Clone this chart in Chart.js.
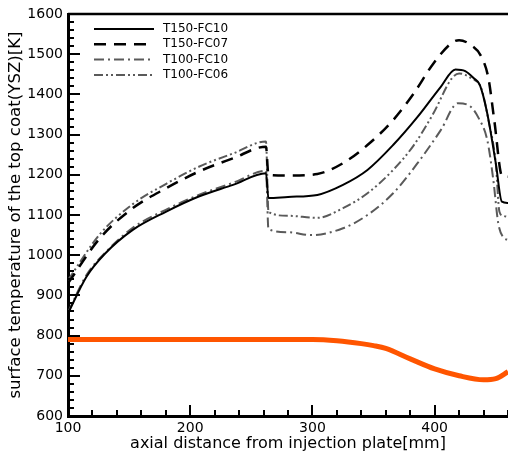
<!DOCTYPE html>
<html>
<head>
<meta charset="utf-8">
<script src="https://cdn.jsdelivr.net/npm/chart.js@4"></script>
<style>
  html, body { margin: 0; padding: 0; background: #fff; }
  #wrap { width: 508px; height: 458px; }
</style>
</head>
<body>
<div id="wrap"><canvas id="chart"></canvas></div>
<script>
// series values (x = axial distance [mm], y = temperature [K])
const labels = ['T150-FC10', 'T150-FC07', 'T100-FC10', 'T100-FC06'];

const fc10T150X = [100, 115, 130, 153, 180, 207, 235, 262, 264, 280, 304, 325, 345, 366, 386, 405, 417, 425, 432, 437, 443, 450, 455, 460];
const fc10T150Y = [855, 946, 1003, 1063, 1108, 1146, 1175, 1204, 1142, 1145, 1150, 1175, 1212, 1274, 1344, 1419, 1462, 1458, 1440, 1423, 1353, 1229, 1133, 1130];

const fc07T150X = [100, 126, 153, 180, 207, 235, 262, 264, 280, 304, 325, 345, 366, 383, 399, 414, 420, 430, 438, 444, 449, 455, 460];
const fc07T150Y = [930, 1042, 1117, 1166, 1208, 1241, 1270, 1200, 1198, 1202, 1229, 1274, 1336, 1403, 1477, 1528, 1535, 1522, 1495, 1440, 1330, 1198, 1195];

const fc10T100X = [100, 115, 131, 153, 180, 207, 235, 262, 264, 280, 299, 325, 345, 366, 386, 405, 419, 430, 436, 443, 448, 452, 456, 460];
const fc10T100Y = [858, 950, 1008, 1068, 1113, 1150, 1180, 1210, 1065, 1057, 1050, 1067, 1100, 1154, 1229, 1311, 1378, 1368, 1341, 1287, 1187, 1080, 1045, 1038];

const fc06T100X = [100, 126, 153, 180, 207, 235, 262, 264, 280, 304, 325, 345, 366, 383, 399, 414, 420, 430, 438, 444, 450, 453, 456, 460];
const fc06T100Y = [938, 1052, 1127, 1177, 1220, 1253, 1283, 1108, 1098, 1093, 1117, 1154, 1212, 1274, 1353, 1440, 1452, 1440, 1416, 1336, 1229, 1108, 1098, 1095];

// orange curve (not in legend)
const bondX = [100, 300, 320, 340, 350, 360, 380, 400, 420, 440, 450, 460];
const bondY = [790, 790, 787, 780, 775, 768, 742, 717, 700, 690, 693, 710];

const xTicks = [100, 200, 300, 400];
const yTicks = [600, 700, 800, 900, 1000, 1100, 1200, 1300, 1400, 1500, 1600];

const FONT = 'DejaVu Sans';

function pts(xs, ys) {
  return xs.map((x, i) => ({ x: x, y: ys[i] }));
}

function series(label, xs, ys, color, width, dash, inLegend) {
  return {
    label: label,
    data: pts(xs, ys),
    borderColor: color,
    borderWidth: width,
    borderDash: dash,
    pointRadius: 0,
    cubicInterpolationMode: 'monotone',
    inLegend: inLegend
  };
}

// ticks drawn inside the frame + top border
const innerTicks = {
  id: 'innerTicks',
  afterDraw(chart) {
    const ctx = chart.ctx;
    const a = chart.chartArea;
    const xs = chart.scales.x;
    const ys = chart.scales.y;
    ctx.save();
    ctx.setLineDash([]);
    ctx.strokeStyle = '#000';
    ctx.lineWidth = 2;
    ctx.beginPath();
    for (let v = 600; v <= 1600; v += 20) {
      const py = Math.round(ys.getPixelForValue(v));
      const len = v % 100 === 0 ? 12 : 6;
      ctx.moveTo(a.left, py);
      ctx.lineTo(a.left + len, py);
    }
    for (let v = 100; v <= 460; v += 20) {
      const px = Math.round(xs.getPixelForValue(v));
      const len = v % 100 === 0 ? 11 : 6;
      ctx.moveTo(px, a.bottom);
      ctx.lineTo(px, a.bottom - len);
    }
    ctx.stroke();
    ctx.lineWidth = 2.5;
    ctx.beginPath();
    ctx.moveTo(a.left, a.top);
    ctx.lineTo(a.right, a.top);
    ctx.stroke();
    ctx.restore();
  }
};

// legend with line samples inside the plot
const lineLegend = {
  id: 'lineLegend',
  afterDraw(chart) {
    const ctx = chart.ctx;
    ctx.save();
    ctx.font = '12px ' + FONT;
    ctx.textBaseline = 'middle';
    ctx.fillStyle = '#000';
    let row = 0;
    chart.data.datasets.forEach(ds => {
      if (!ds.inLegend) return;
      const yy = 29 + row * 15.3;
      ctx.strokeStyle = ds.borderColor;
      ctx.lineWidth = ds.borderWidth;
      ctx.setLineDash(ds.borderDash || []);
      ctx.beginPath();
      ctx.moveTo(94, yy);
      ctx.lineTo(154, yy);
      ctx.stroke();
      ctx.setLineDash([]);
      ctx.fillText(ds.label, 163, yy);
      row++;
    });
    ctx.restore();
  }
};

new Chart(document.getElementById('chart'), {
  type: 'line',
  data: {
    datasets: [
      series('bond', bondX, bondY, '#ff5500', 5, [], false),
      series(labels[0], fc10T150X, fc10T150Y, '#000000', 2, [], true),
      series(labels[1], fc07T150X, fc07T150Y, '#000000', 2.5, [12, 8], true),
      series(labels[2], fc10T100X, fc10T100Y, '#5a5a5a', 2, [10, 4, 2, 4], true),
      series(labels[3], fc06T100X, fc06T100Y, '#5a5a5a', 2, [9, 3, 2, 3, 2, 3], true)
    ]
  },
  options: {
    responsive: true,
    maintainAspectRatio: false,
    animation: false,
    events: [],
    layout: { padding: { top: 14, right: 0, left: 0, bottom: 0 } },
    plugins: { legend: { display: false }, tooltip: { enabled: false } },
    scales: {
      x: {
        type: 'linear',
        min: 100,
        max: 460,
        afterFit(s) { s.height = 42; },
        afterBuildTicks(s) { s.ticks = xTicks.map(v => ({ value: v })); },
        grid: { drawOnChartArea: false, drawTicks: false },
        border: { display: true, color: '#000', width: 3 },
        ticks: { color: '#000', padding: 4, maxRotation: 0, font: { family: FONT, size: 14 }, callback: v => String(v) },
        title: { display: true, text: 'axial distance from injection plate[mm]', color: '#000', padding: { top: 0, bottom: 5 }, font: { family: FONT, size: 16 } }
      },
      y: {
        min: 600,
        max: 1600,
        afterFit(s) { s.width = 68; },
        afterBuildTicks(s) { s.ticks = yTicks.map(v => ({ value: v })); },
        grid: { drawOnChartArea: false, drawTicks: false },
        border: { display: true, color: '#000', width: 3 },
        ticks: { color: '#000', padding: 5, font: { family: FONT, size: 14 }, callback: v => String(v) },
        title: { display: true, text: 'surface temperature of the top coat(YSZ)[K]', color: '#000', padding: { top: 6, bottom: 0 }, font: { family: FONT, size: 16.6 } }
      }
    }
  },
  plugins: [innerTicks, lineLegend]
});
</script>
</body>
</html>
